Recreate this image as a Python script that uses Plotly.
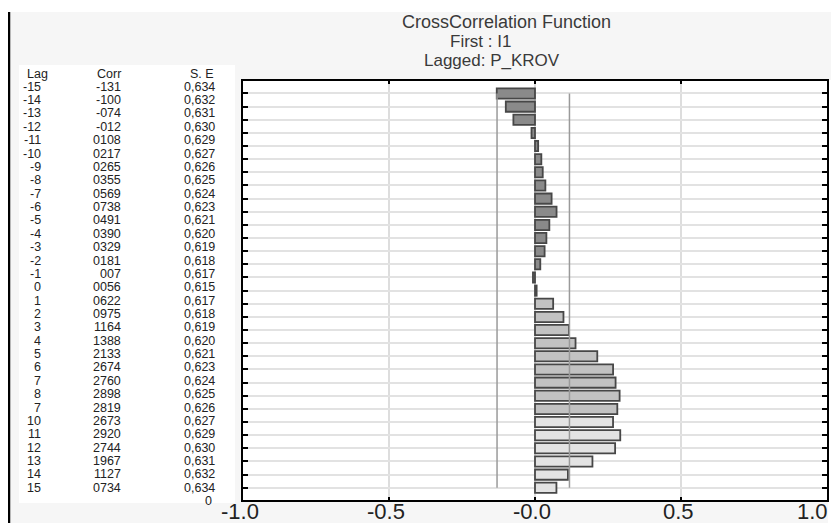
import plotly.graph_objects as go

# ---- data ----
lag_labels = ["-15", "-14", "-13", "-12", "-11", "-10", "-9", "-8", "-7", "-6", "-5", "-4", "-3", "-2", "-1",
              "0", "1", "2", "3", "4", "5", "6", "7", "8", "7", "10", "11", "12", "13", "14", "15"]
corr_text = ["-131", "-100", "-074", "-012", "0108", "0217", "0265", "0355", "0569", "0738", "0491", "0390",
             "0329", "0181", "007", "0056", "0622", "0975", "1164", "1388", "2133", "2674", "2760", "2898",
             "2819", "2673", "2920", "2744", "1967", "1127", "0734"]
corr_values = [-0.131, -0.100, -0.074, -0.012, 0.0108, 0.0217, 0.0265, 0.0355, 0.0569, 0.0738, 0.0491, 0.0390,
               0.0329, 0.0181, -0.007, 0.0056, 0.0622, 0.0975, 0.1164, 0.1388, 0.2133, 0.2674, 0.2760, 0.2898,
               0.2819, 0.2673, 0.2920, 0.2744, 0.1967, 0.1127, 0.0734]
se_text = ["0,634", "0,632", "0,631", "0,630", "0,629", "0,627", "0,626", "0,625", "0,624", "0,623", "0,621",
           "0,620", "0,619", "0,618", "0,617", "0,615", "0,617", "0,618", "0,619", "0,620", "0,621", "0,623",
           "0,624", "0,625", "0,626", "0,627", "0,629", "0,630", "0,631", "0,632", "0,634"]
conf_limits = [-0.130, 0.118]
x_tick_vals = [-1.0, -0.5, 0.0, 0.5, 1.0]
x_tick_text = ["-1.0", "-0.5", "-0.0", "0.5", "1.0"]
title_lines = ["CrossCorrelation Function", "First : I1", "Lagged: P_KROV"]

n = len(lag_labels)
half = n // 2
positions = [i - half for i in range(n)]

# ---- geometry: the page body has an 8px margin, so work in reference pixels minus 8 ----
O = 8
W, H = 839 - O, 523 - O
PLOT_L, PLOT_R, PLOT_T, PLOT_B = 243, 827, 81, 500
L, R, T, B = PLOT_L - O, W - (PLOT_R - O), PLOT_T - O, H - (PLOT_B - O)
PW, PH = W - L - R, H - T - B


def px(x):
    return (x - O - L) / PW


def py(y):
    return (PLOT_B - y) / PH


colors = []
for p in positions:
    if p < 0:
        colors.append("#8a8a8a")
    elif p == 0:
        colors.append("#6a6a6a")
    elif p < 10:
        colors.append("#c2c2c2")
    else:
        colors.append("#e3e3e3")

fig = go.Figure()
fig.add_trace(go.Bar(
    x=corr_values, y=positions, orientation="h", width=0.78,
    marker=dict(color=colors, line=dict(color="#474747", width=1.8)),
    showlegend=False, hoverinfo="x+y",
))

shapes = []
# white strips around grey panel
shapes.append(dict(type="rect", xref="paper", yref="paper", x0=px(0), x1=px(839), y0=py(0), y1=py(12),
                   fillcolor="white", line=dict(width=0), layer="below"))
shapes.append(dict(type="rect", xref="paper", yref="paper", x0=px(828), x1=px(839), y0=py(80), y1=py(523),
                   fillcolor="white", line=dict(width=0), layer="below"))
# table background
shapes.append(dict(type="rect", xref="paper", yref="paper", x0=px(19), x1=px(235), y0=py(65), y1=py(503),
                   fillcolor="white", line=dict(width=0), layer="below"))
# left black rule
shapes.append(dict(type="line", xref="paper", yref="paper", x0=px(9), x1=px(9), y0=py(12), y1=py(523),
                   line=dict(color="black", width=2.5)))
# confidence limits
for c in conf_limits:
    shapes.append(dict(type="line", xref="x", yref="y", x0=c, x1=c, y0=positions[0], y1=positions[-1],
                       line=dict(color="#9a9a9a", width=1.5), layer="above"))

annotations = []
for text, (cx, cy), fs in zip(title_lines, [(506, 22), (480, 41), (492, 61)], [18, 17, 17]):
    annotations.append(dict(text=text, x=px(cx), y=py(cy), xref="paper", yref="paper", showarrow=False,
                            xanchor="center", yanchor="middle",
                            font=dict(family="Liberation Sans", size=fs, color="#3a3a3a")))

cfont = dict(family="Liberation Sans", size=12.5, color="#222222")
col_x = [43, 123, 217]
header = ["Lag", "Corr", "S. E"]
header_x = [50, 123, 216]
for hx, h in zip(header_x, header):
    annotations.append(dict(text=h, x=px(hx), y=py(74), xref="paper", yref="paper", showarrow=False,
                            xanchor="right", yanchor="middle", font=cfont))
row0, drow = 86.7, 13.37
for i in range(n):
    yy = py(row0 + i * drow)
    for cx, txt in zip(col_x, [lag_labels[i], corr_text[i], se_text[i]]):
        annotations.append(dict(text=txt, x=px(cx), y=yy, xref="paper", yref="paper", showarrow=False,
                                xanchor="right", yanchor="middle", font=cfont))
annotations.append(dict(text="0", x=px(214), y=py(row0 + n * drow), xref="paper", yref="paper",
                        showarrow=False, xanchor="right", yanchor="middle", font=cfont))

# x tick labels placed just under the axis (the last one kept inside the visible edge)
for k, (v, t) in enumerate(zip(x_tick_vals, x_tick_text)):
    last = k == len(x_tick_vals) - 1
    annotations.append(dict(text=t, x=v, y=py(511.5), xref="x", yref="paper", showarrow=False,
                            xanchor="right" if last else "center", yanchor="middle",
                            xshift=3 if last else -3,
                            font=dict(family="Liberation Sans", size=22, color="#222222")))

fig.update_layout(
    width=W, height=H,
    margin=dict(l=L, r=R, t=T, b=B, pad=0, autoexpand=False),
    paper_bgcolor="#f6f6f6", plot_bgcolor="white",
    shapes=shapes, annotations=annotations,
    bargap=0.2,
    xaxis=dict(range=[-1, 1], tickvals=x_tick_vals, showticklabels=False, automargin=False,
               showgrid=True, gridcolor="#dddddd", gridwidth=2, zeroline=False,
               showline=True, linecolor="black", linewidth=1.5, mirror="ticks",
               ticks="inside", ticklen=3, tickwidth=2, tickcolor="black", fixedrange=True),
    yaxis=dict(range=[15.93, -15.95], tickvals=positions, showticklabels=False, automargin=False,
               showgrid=True, gridcolor="#e2e2e2", gridwidth=2, zeroline=False,
               showline=True, linecolor="black", linewidth=1.5, mirror="ticks",
               ticks="inside", ticklen=5, tickwidth=2, tickcolor="black", fixedrange=True),
)

fig.write_html("out.html")
